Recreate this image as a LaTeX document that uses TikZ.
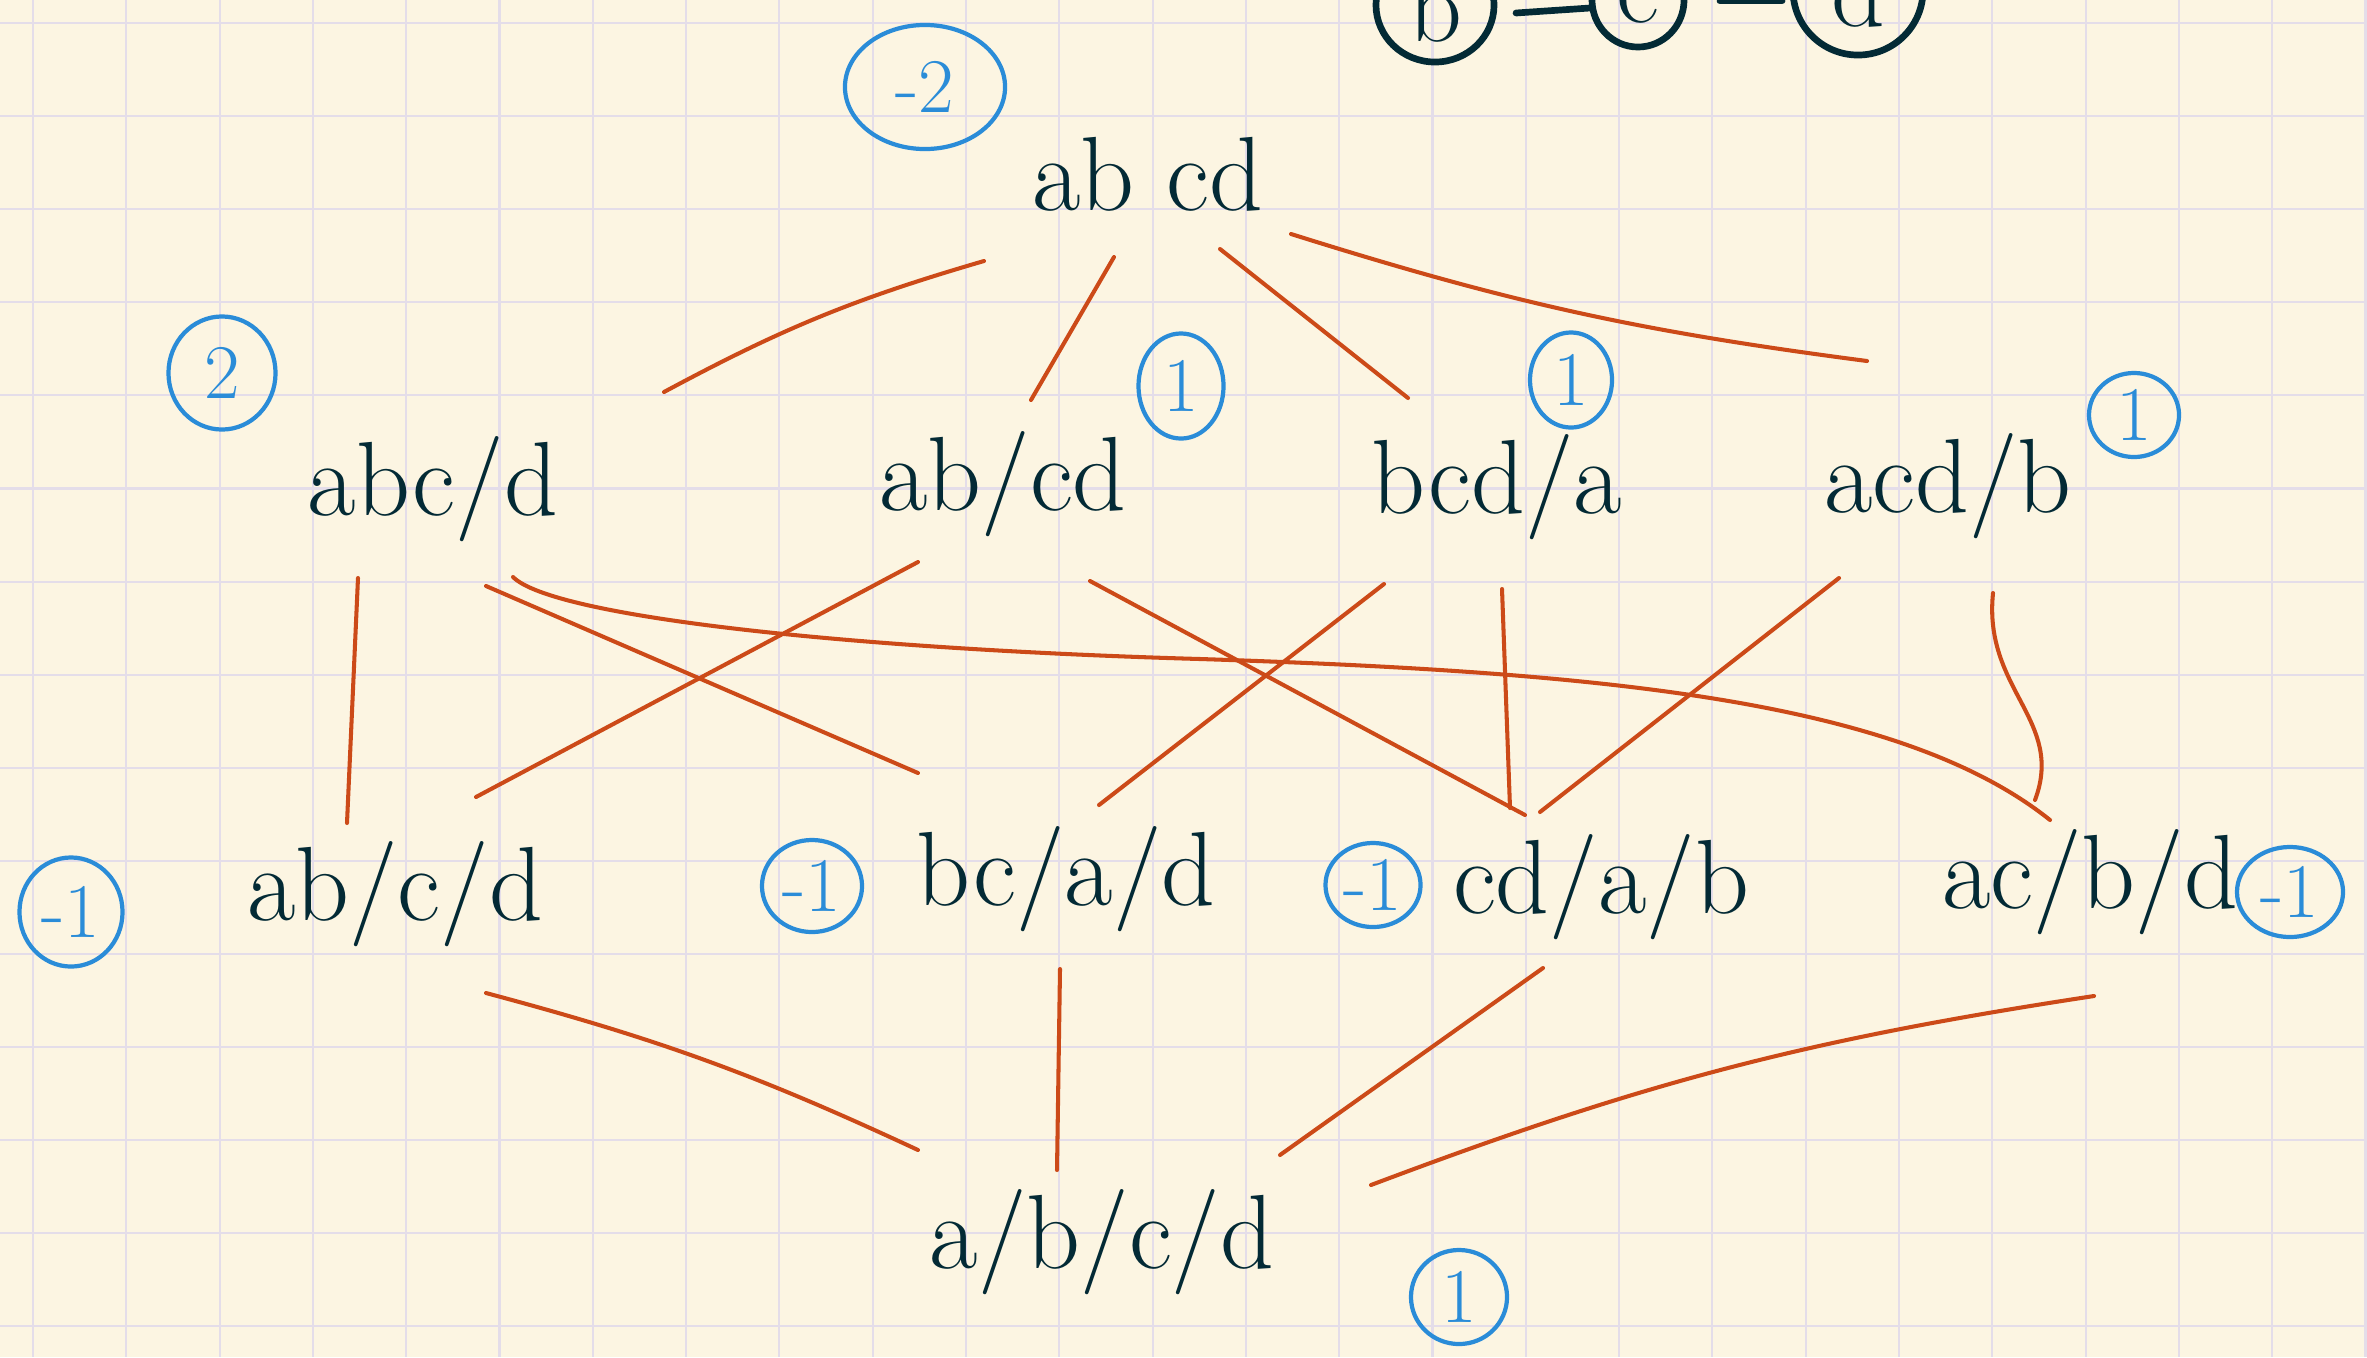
\documentclass[tikz,border=0pt]{standalone}
\usepackage{tikz}
\usetikzlibrary{shapes.geometric}

\definecolor{paper}{RGB}{252,245,226}
\definecolor{gridcol}{RGB}{228,221,233}
\definecolor{ink}{RGB}{3,42,53}
\definecolor{scorecol}{RGB}{42,140,216}
\definecolor{edgecol}{RGB}{204,74,24}

\tikzset{
  part/.style={anchor=base, inner sep=0pt, text=ink, font=\fontsize{30}{36}\selectfont},
  tally/.style={draw=scorecol, ellipse, line width=1.2pt, inner sep=0pt, text=scorecol,
    font=\fontsize{22}{26}\selectfont},
  vert/.style={draw=ink, ellipse, line width=1.9pt, inner sep=0pt, text=ink,
    font=\fontsize{30}{36}\selectfont},
  conn/.style={draw=edgecol, line width=1.15pt, line cap=round},
  paperline/.style={draw=gridcol, line width=0.6pt},
}

\begin{document}
\begin{tikzpicture}[x=0.01cm, y=-0.01cm]
  % the paper
  \useasboundingbox (0,0) rectangle (2367,1357);
  \clip (0,0) rectangle (2367,1357);
  \fill[paper] (0,0) rectangle (2367,1357);
  \foreach \i in {0,...,25}
    \draw[paperline] ({33+93.3*\i},0) -- ({33+93.3*\i},1357);
  \foreach \j in {0,...,14}
    \draw[paperline] (0,{23+93.1*\j}) -- (2367,{23+93.1*\j});

  % the small graph b - c - d
  \node[vert, minimum width=1.18cm, minimum height=1.14cm] (vb) at (1435,5) {b};
  \node[vert, minimum width=0.92cm, minimum height=0.94cm] (vc) at (1638,0) {c};
  \node[vert, minimum width=1.30cm, minimum height=1.30cm] (vd) at (1858,-10) {d};
  \draw[ink, line width=1.9pt, line cap=round] ([shift={(81,8)}]vb.center) -- ([shift={(-48,8)}]vc.center);
  \draw[ink, line width=1.9pt, line cap=round] ([shift={(82,1)}]vc.center) -- ([shift={(-76,11)}]vd.center);

  % the partitions
  \node[part] (abcd) at (1148,210) {ab cd};
  \node[part] (abc-d) at (433,515) {abc/d};
  \node[part] (ab-cd) at (1003,510) {ab/cd};
  \node[part] (bcd-a) at (1497,513) {bcd/a};
  \node[part] (acd-b) at (1948,512) {acd/b};
  \node[part] (ab-c-d) at (395,920) {ab/c/d};
  \node[part] (bc-a-d) at (1066,905) {bc/a/d};
  \node[part] (cd-a-b) at (1601,913) {cd/a/b};
  \node[part] (ac-b-d) at (2090,908) {ac/b/d};
  \node[part] (a-b-c-d) at (1102,1268) {a/b/c/d};

  % the circled values
  \node[tally, minimum width=1.60cm, minimum height=1.24cm] (s-abcd) at (925,87) {-2};
  \node[tally, minimum width=1.07cm, minimum height=1.13cm] (s-abc-d) at (222,373) {2};
  \node[tally, minimum width=0.85cm, minimum height=1.05cm] (s-ab-cd) at (1181,386) {1};
  \node[tally, minimum width=0.82cm, minimum height=0.95cm] (s-bcd-a) at (1571,380) {1};
  \node[tally, minimum width=0.90cm, minimum height=0.84cm] (s-acd-b) at (2134,415) {1};
  \node[tally, minimum width=1.03cm, minimum height=1.09cm] (s-ab-c-d) at (71,912) {-1};
  \node[tally, minimum width=1.00cm, minimum height=0.92cm] (s-bc-a-d) at (812,886) {-1};
  \node[tally, minimum width=0.95cm, minimum height=0.84cm] (s-cd-a-b) at (1373,885) {-1};
  \node[tally, minimum width=1.06cm, minimum height=0.90cm] (s-ac-b-d) at (2290,892) {-1};
  \node[tally, minimum width=0.96cm, minimum height=0.94cm] (s-a-b-c-d) at (1459,1297) {1};

  % top to the second row
  \draw[conn] ([shift={(-164,51)}]abcd.base) to[bend right=6] ([shift={(231,-123)}]abc-d.base);
  \draw[conn] ([shift={(-34,47)}]abcd.base) -- ([shift={(28,-110)}]ab-cd.base);
  \draw[conn] ([shift={(72,39)}]abcd.base) -- ([shift={(-89,-115)}]bcd-a.base);
  \draw[conn] ([shift={(143,24)}]abcd.base) to[bend right=5] ([shift={(-81,-151)}]acd-b.base);

  % second row to third row
  \draw[conn] ([shift={(-75,63)}]abc-d.base) -- ([shift={(-48,-97)}]ab-c-d.base);
  \draw[conn] ([shift={(53,71)}]abc-d.base) -- ([shift={(-148,-132)}]bc-a-d.base);
  \draw[conn] ([shift={(80,62)}]abc-d.base) .. controls (553,617) and (850,649) .. (1200,659)
    .. controls (1600,672) and (1900,700) .. ([shift={(-40,-88)}]ac-b-d.base);
  \draw[conn] ([shift={(-85,52)}]ab-cd.base) -- ([shift={(81,-123)}]ab-c-d.base);
  \draw[conn] ([shift={(87,71)}]ab-cd.base) -- ([shift={(-76,-98)}]cd-a-b.base);
  \draw[conn] ([shift={(-113,71)}]bcd-a.base) -- ([shift={(33,-100)}]bc-a-d.base);
  \draw[conn] ([shift={(5,76)}]bcd-a.base) -- ([shift={(-91,-105)}]cd-a-b.base);
  \draw[conn] ([shift={(-109,66)}]acd-b.base) -- ([shift={(-61,-101)}]cd-a-b.base);
  \draw[conn] ([shift={(45,81)}]acd-b.base) .. controls (1983,690) and (2065,720) .. ([shift={(-55,-108)}]ac-b-d.base);

  % third row to the bottom
  \draw[conn] ([shift={(91,73)}]ab-c-d.base) to[bend left=5] ([shift={(-184,-118)}]a-b-c-d.base);
  \draw[conn] ([shift={(-6,64)}]bc-a-d.base) -- ([shift={(-45,-98)}]a-b-c-d.base);
  \draw[conn] ([shift={(-58,55)}]cd-a-b.base) -- ([shift={(178,-113)}]a-b-c-d.base);
  \draw[conn] ([shift={(4,88)}]ac-b-d.base) to[bend right=6] ([shift={(269,-83)}]a-b-c-d.base);
\end{tikzpicture}
\end{document}
